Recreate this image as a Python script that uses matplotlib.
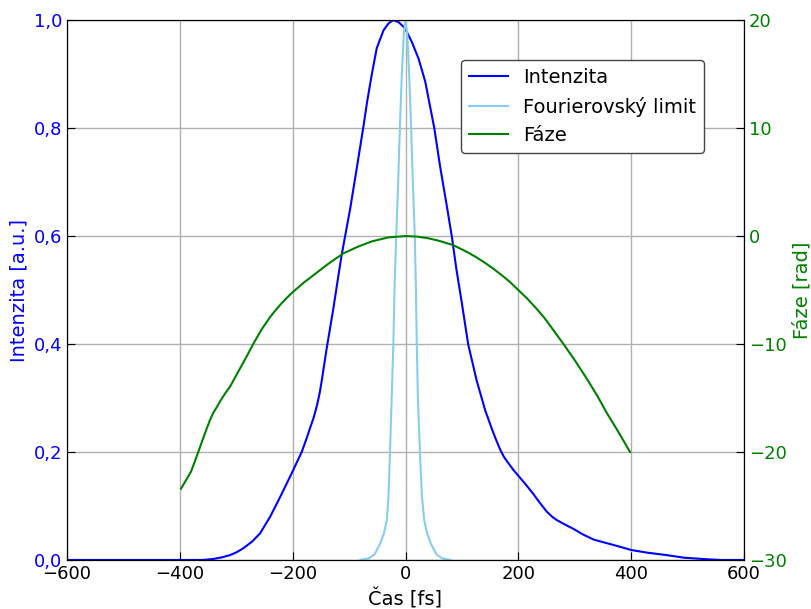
import matplotlib
matplotlib.use("Agg")
import matplotlib.pyplot as plt
from matplotlib.ticker import FuncFormatter

# Intenzita (blue)
t_int = [-600, -360, -340, -325, -311, -300, -287, -272, -258, -240, -222, -202,
         -184, -175, -169, -163, -157, -152, -148, -140, -128, -114, -107, -98, -86.5, -75, -68,
         -60, -51, -39, -30, -22, -12, -1, 11, 23, 35, 43, 51, 61, 73, 82, 90,
         100, 111, 126, 141, 153, 160, 168, 175, 184, 191, 200, 213, 226, 238, 250, 260,
         268, 282, 297, 315, 333, 350, 368, 385, 400, 428, 463, 493, 534, 560, 600]
intenzita = [0, 0, 0.002, 0.005, 0.009, 0.014, 0.022, 0.034, 0.049, 0.080, 0.117, 0.160,
             0.200, 0.226, 0.245, 0.263, 0.286, 0.310, 0.335, 0.390, 0.465, 0.560, 0.600, 0.651, 0.725, 0.800, 0.849,
             0.898, 0.948, 0.981, 0.994, 1.0, 0.996, 0.985, 0.960, 0.929, 0.886, 0.843, 0.800, 0.731, 0.657, 0.600, 0.540,
             0.475, 0.400, 0.333, 0.278, 0.243, 0.224, 0.204, 0.190, 0.177, 0.167, 0.156, 0.140, 0.123, 0.106, 0.090, 0.080,
             0.074, 0.066, 0.058, 0.047, 0.038, 0.033, 0.028, 0.023, 0.0185, 0.0136, 0.009, 0.0043, 0.0013, 0, 0]

# Fourierovsky limit (light blue)
t_four = [-80, -65, -55, -45, -38, -33, -30, -27.5, -24.5, -21.5, -19.5, -16.5, -13,
          -10, -6.5, -3, 0, 3, 6.5, 10, 13, 16.5, 18.5, 20, 22, 25.5, 29, 33, 38,
          45, 55, 65, 80]
fourier = [0.0, 0.003, 0.01, 0.03, 0.05, 0.075, 0.12, 0.2, 0.3, 0.4, 0.5, 0.6, 0.7,
           0.8, 0.9, 0.975, 1.0, 0.975, 0.9, 0.8, 0.7, 0.6, 0.5, 0.4, 0.3, 0.2, 0.12, 0.075, 0.05,
           0.03, 0.01, 0.003, 0.0]

# Faze (green, right axis)
t_faze = [-398, -390, -380, -368, -355, -347, -341, -334, -328, -320, -311, -300, -290,
          -280, -270, -255, -240, -230, -220, -210, -200, -180, -160, -135, -110, -85,
          -60, -30, 0, 20, 40, 60, 85, 110, 125, 140, 155, 170, 185, 200, 215, 230,
          245, 262, 280, 300, 320, 340, 357, 378, 398]
faze = [-23.4, -22.7, -21.8, -20.1, -18.2, -17.1, -16.4, -15.8, -15.25, -14.6, -13.95, -12.9, -11.95,
        -11.0, -10.0, -8.65, -7.5, -6.85, -6.25, -5.7, -5.2, -4.3, -3.5, -2.5, -1.6, -1.0,
        -0.5, -0.12, 0.0, -0.05, -0.2, -0.45, -0.85, -1.5, -1.95, -2.45, -3.0, -3.6, -4.25, -5.0, -5.75, -6.6,
        -7.5, -8.7, -10.0, -11.5, -13.1, -14.8, -16.4, -18.2, -20.0]

plt.rcParams['font.size'] = 13
plt.rcParams['axes.unicode_minus'] = True

fig, ax1 = plt.subplots(figsize=(8.11, 6.09), dpi=100)
fig.subplots_adjust(left=0.0826, right=0.9174, bottom=0.0805, top=0.967)

l1, = ax1.plot(t_int, intenzita, color='blue', lw=1.5, label='Intenzita')
l2, = ax1.plot(t_four, fourier, color='skyblue', lw=1.5, label='Fourierovský limit')
ax1.set_xlim(-600, 600)
ax1.set_ylim(0, 1)
ax1.set_xticks([-600, -400, -200, 0, 200, 400, 600])
ax1.set_yticks([0, 0.2, 0.4, 0.6, 0.8, 1.0])
ax1.yaxis.set_major_formatter(FuncFormatter(lambda v, p: f"{v:.1f}".replace('.', ',')))
ax1.set_xlabel('Čas [fs]', fontsize=14, labelpad=4)
ax1.set_ylabel('Intenzita [a.u.]', color='blue', fontsize=14)
ax1.tick_params(axis='y', colors='black', labelcolor='blue', direction='in', length=6)
ax1.tick_params(axis='x', direction='in', length=6)
ax1.grid(True, color='#b0b0b0', lw=1)

ax2 = ax1.twinx()
l3, = ax2.plot(t_faze, faze, color='green', lw=1.5, label='Fáze')
ax2.set_ylim(-30, 20)
ax2.set_yticks([-30, -20, -10, 0, 10, 20])
ax2.set_ylabel('Fáze [rad]', color='green', fontsize=14)
ax2.tick_params(axis='y', labelcolor='green', direction='in', length=6)

ax2.legend(handles=[l1, l2, l3], loc='upper right', bbox_to_anchor=(0.941, 0.926),
           borderaxespad=0, fontsize=14, framealpha=1, edgecolor='#444444')

fig.savefig('out.png', dpi=100)
